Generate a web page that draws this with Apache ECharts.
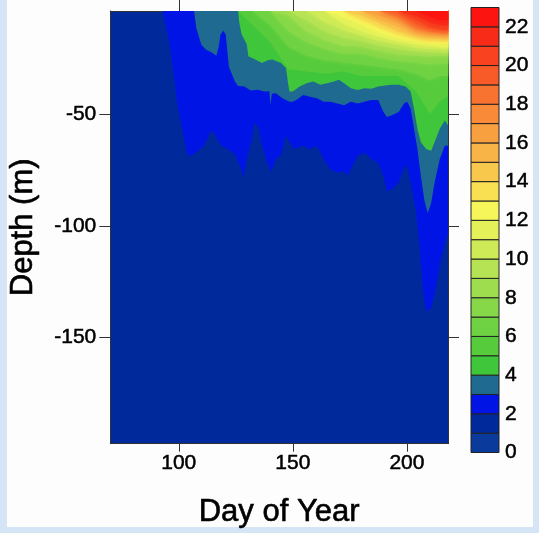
<!DOCTYPE html>
<html><head><meta charset="utf-8">
<script src="https://cdn.jsdelivr.net/npm/echarts@6/dist/echarts.min.js"></script>
<style>html,body{margin:0;padding:0;background:#d5e5f5;}#c{width:539px;height:533px;}</style>
</head><body><div id="c"></div>
<script>
// ---------- data ----------
const dayTicks = [100, 150, 200];
const depthTicks = [-150, -100, -50];
const colorbarTicks = [0, 2, 4, 6, 8, 10, 12, 14, 16, 18, 20, 22];
const tempLevels = [0,1,2,3,4,5,6,7,8,9,10,11,12,13,14,15,16,17,18,19,20,21,22,23];
const bandColors = ['#0a3a9c','#00299b','#0014e6','#1f6a90','#40c63a','#56cb3c','#6ed242','#86d848','#9edd4e','#b6e354','#ceea56','#e4f158','#f6f65a','#f8e052','#f8c84c','#f8b446','#f8a040','#f88a38','#f87230','#f85a28','#f84220','#f82a18','#fc1410'];

// isotherm depths (day, depth m)
const iso2 = [[93,-4],[96.2,-20],[99.6,-47],[103.5,-67],[104.4,-69],[106.6,-68],[111.1,-64.2],[114.1,-57.4],[115.6,-58.9],[118.6,-64.2],[121.6,-65.7],[124.6,-68],[127.5,-74.8],[128.5,-78.5],[129.8,-70.2],[132,-61.2],[133.3,-53.5],[135,-56.6],[136.5,-64.2],[138.8,-71.8],[140.6,-76],[142.5,-70.2],[144.8,-68.7],[147,-59.7],[148.5,-62.7],[150.7,-65.7],[154.5,-64.2],[157.5,-65.7],[160.5,-64.2],[163.5,-70.2],[166.5,-74.8],[169.5,-76.3],[172.5,-75.5],[174,-77.8],[175.4,-74.8],[178.4,-68.7],[181.4,-67.2],[184.4,-70.2],[187.4,-71.8],[189.7,-77.8],[191.2,-84.6],[193.4,-83.8],[196.4,-80.8],[198.7,-74],[200.1,-73.3],[201.6,-80.8],[203.9,-92.9],[205.4,-108],[206.9,-127.6],[208.4,-138.2],[210.6,-136.7],[212.1,-130.7],[214.4,-117.1],[216.6,-108],[218,-103.5]];
const iso3 = [[106.7,-4],[107.7,-11.7],[109.9,-19.1],[112.1,-21.4],[114.5,-22.5],[116.5,-24],[117.5,-20],[118.3,-14.5],[119.5,-12.8],[120.6,-14.5],[121.3,-22],[122,-29],[124.6,-35.5],[126,-37.5],[128.8,-37.7],[131.5,-39.5],[134.6,-39.2],[137.5,-40],[139.7,-39.9],[140.2,-46],[140.8,-41],[142.5,-40.8],[145.5,-43],[148.5,-44.6],[150,-44.6],[152,-43.5],[154.5,-41.5],[157.5,-42.3],[160.5,-43],[163.5,-44.6],[166.5,-44.6],[169.5,-45.3],[172.5,-46.1],[175.4,-44.6],[178.4,-45.3],[181.4,-44.6],[184.4,-43.8],[187.4,-43.8],[189.7,-49.1],[191.2,-51.4],[193.4,-50.6],[196.4,-49.1],[198.7,-45.3],[200.1,-44.6],[201.6,-47.6],[203.1,-56.6],[204.6,-65.7],[206.1,-77.8],[207.6,-88.4],[209.1,-94.4],[210.6,-89.9],[212.1,-80.8],[214.4,-70.2],[216.6,-64.2],[218,-64.2]];
const iso4 = [[126,-4],[126.5,-9],[127.5,-14.3],[129.8,-18.9],[130.5,-24.2],[133.5,-25.7],[136.5,-27.2],[139,-26],[141,-25.7],[144.8,-27.2],[147,-29.5],[147.8,-35.5],[148.5,-40],[150,-40],[153,-37.8],[156,-36.3],[159,-35.5],[162,-37],[165,-36.3],[168,-35.5],[170.2,-34.7],[172.5,-36.3],[175.4,-38.5],[178.4,-39.3],[181.4,-38.5],[184.4,-38.8],[187.4,-37.8],[190.4,-37.3],[193.4,-37],[196.4,-37],[199.4,-37.8],[201.6,-40],[203.1,-47.6],[204.6,-56.6],[206.1,-62.7],[208.4,-65.7],[210.6,-66.5],[212.1,-62.7],[214.4,-56.6],[216.6,-52.9],[218,-55.1]];

// warmer isotherms sampled on a coarse day grid
const upperDays = [126,132,140,148,156,164,172,180,188,196,204,210,214,218];
const iso5  = [-4,-10,-18,-30,-31,-32,-31,-33,-33,-33,-40,-50,-45,-42];
const iso6  = [-4,-4,-10,-20,-24,-26,-27,-28,-29,-30,-32,-35,-33,-33];
const iso7  = [-4,-4,-4,-13,-18,-21,-23,-23,-25,-26.5,-27,-28,-27.5,-27.5];
const iso8  = [-4,-4,-4,-6,-13,-17,-19.5,-20,-22,-23.5,-24,-24.5,-24,-24.5];
const iso9  = [-4,-4,-4,-4,-8,-13,-16,-17.5,-19.5,-21,-22,-22.5,-22.5,-23];
const iso10 = [-4,-4,-4,-4,-4,-9,-12.5,-15,-17.5,-19,-20.5,-21,-21,-21.5];
const iso11 = [-4,-4,-4,-4,-4,-4,-9.5,-13,-15.5,-17.5,-19,-19.5,-20,-20.5];
const iso12 = [-4,-4,-4,-4,-4,-4,-6.5,-10,-13.5,-16,-17.5,-18.5,-18.5,-19];
const iso13 = [-4,-4,-4,-4,-4,-4,-4,-8,-11.5,-14.5,-16.5,-17.5,-17.5,-18];
const iso14 = [-4,-4,-4,-4,-4,-4,-4,-6,-9.5,-13,-15.5,-16.5,-16.5,-17];
const iso15 = [-4,-4,-4,-4,-4,-4,-4,-4,-8,-11,-14.5,-15.5,-15.5,-16];
const iso16 = [-4,-4,-4,-4,-4,-4,-4,-4,-6,-9,-13.5,-14.5,-14.5,-15];
const iso17 = [-4,-4,-4,-4,-4,-4,-4,-4,-4,-7.5,-12.5,-13.5,-14,-14.5];
const iso18 = [-4,-4,-4,-4,-4,-4,-4,-4,-4,-6.5,-11.5,-13,-13.5,-14];
const iso19 = [-4,-4,-4,-4,-4,-4,-4,-4,-4,-5,-10,-12,-12.5,-13];
const iso20 = [-4,-4,-4,-4,-4,-4,-4,-4,-4,-4,-8,-11,-12,-12.5];
const iso21 = [-4,-4,-4,-4,-4,-4,-4,-4,-4,-4,-6,-9,-10,-10.5];
const iso22 = [-4,-4,-4,-4,-4,-4,-4,-4,-4,-4,-4,-6.5,-8,-8];

const DAY_MIN = 70, DAY_MAX = 218, DEPTH_MIN = -197.4, DEPTH_MAX = -4;

// ---------- build ----------
const upperIso = [iso5,iso6,iso7,iso8,iso9,iso10,iso11,iso12,iso13,iso14,iso15,iso16,iso17,iso18,iso19,iso20,iso21,iso22];
const boundaries = [
  {level: 2, pts: iso2}, {level: 3, pts: iso3}, {level: 4, pts: iso4}
].concat(upperIso.map((arr, i) => ({level: 5 + i, pts: upperDays.map((d, j) => [d, arr[j]])})));

const font = 'Liberation Sans, Arial, Helvetica, sans-serif';
const lblStyle = {color: '#000', fontSize: 21, fontFamily: font, textBorderColor: '#000', textBorderWidth: 0.5};
const nameStyle = {color: '#000', fontSize: 31, fontFamily: font, textBorderColor: '#000', textBorderWidth: 0.6};
const axLine = {show: true, lineStyle: {color: '#333', width: 1}};

const chart = echarts.init(document.getElementById('c'), null, {renderer: 'canvas'});
chart.setOption({
  backgroundColor: '#d5e5f5',
  animation: false,
  graphic: [{type: 'rect', z: -10, shape: {x: 7, y: 0, width: 526, height: 527}, style: {fill: '#fdfdfd'}}],
  grid: [
    {left: 108.5, top: 11, width: 339.5, height: 434.5, show: true, backgroundColor: bandColors[1], borderWidth: 0},
    {left: 471, top: 7.5, width: 28, height: 445}
  ],
  xAxis: [
    {gridIndex: 0, type: 'value', min: DAY_MIN, max: DAY_MAX, position: 'bottom', splitLine: {show: false},
     axisLine: axLine, axisTick: {show: true, length: 8, customValues: dayTicks, lineStyle: {color: '#333'}},
     axisLabel: Object.assign({customValues: dayTicks, margin: 9}, lblStyle),
     name: 'Day of Year', nameLocation: 'middle', nameGap: 53, nameTextStyle: nameStyle},
    {gridIndex: 0, type: 'value', min: DAY_MIN, max: DAY_MAX, position: 'top', splitLine: {show: false},
     axisLine: axLine, axisTick: {show: true, length: 11, customValues: dayTicks, lineStyle: {color: '#333'}},
     axisLabel: {show: false}},
    {gridIndex: 1, type: 'value', min: 0, max: 1, show: false}
  ],
  yAxis: [
    {gridIndex: 0, type: 'value', min: DEPTH_MIN, max: DEPTH_MAX, position: 'left', splitLine: {show: false},
     axisLine: axLine, axisTick: {show: true, length: 11, customValues: depthTicks, lineStyle: {color: '#333'}},
     axisLabel: Object.assign({customValues: depthTicks, margin: 14}, lblStyle),
     name: 'Depth (m)', nameLocation: 'middle', nameGap: 71, nameTextStyle: nameStyle},
    {gridIndex: 0, type: 'value', min: DEPTH_MIN, max: DEPTH_MAX, position: 'right', splitLine: {show: false},
     axisLine: axLine, axisTick: {show: true, length: 11, customValues: depthTicks, lineStyle: {color: '#333'}},
     axisLabel: {show: false}},
    {gridIndex: 1, type: 'value', min: 0, max: 23, position: 'right', splitLine: {show: false},
     axisLine: {show: false}, axisTick: {show: false},
     axisLabel: Object.assign({customValues: colorbarTicks, margin: 6}, lblStyle)}
  ],
  series: [
    {
      type: 'custom', xAxisIndex: 0, yAxisIndex: 0, clip: true, silent: true,
      data: boundaries.map(b => [b.pts[0][0], b.pts[0][1], b.level]),
      renderItem: (params, api) => {
        const b = boundaries[params.dataIndex];
        const pts = b.pts.map(p => api.coord(p));
        const first = b.pts[0][0], last = b.pts[b.pts.length - 1][0];
        pts.push(api.coord([last, DEPTH_MAX]), api.coord([first, DEPTH_MAX]));
        const soft = b.level >= 6;
        return {type: 'polygon', shape: {points: pts},
                style: {fill: bandColors[b.level], shadowBlur: soft ? 5 : 0, shadowColor: soft ? bandColors[b.level] : 'transparent'}};
      }
    },
    {
      type: 'custom', xAxisIndex: 2, yAxisIndex: 2, silent: true,
      data: tempLevels.slice(0, 23).map(t => [0.5, t + 0.5, t]),
      renderItem: (params, api) => {
        const t = api.value(2);
        const a = api.coord([0, t + 1]), b = api.coord([1, t]);
        return {type: 'rect', shape: {x: a[0], y: a[1], width: b[0] - a[0], height: b[1] - a[1]},
                style: {fill: bandColors[t], stroke: '#222', lineWidth: 1}};
      }
    }
  ]
});
</script></body></html>
